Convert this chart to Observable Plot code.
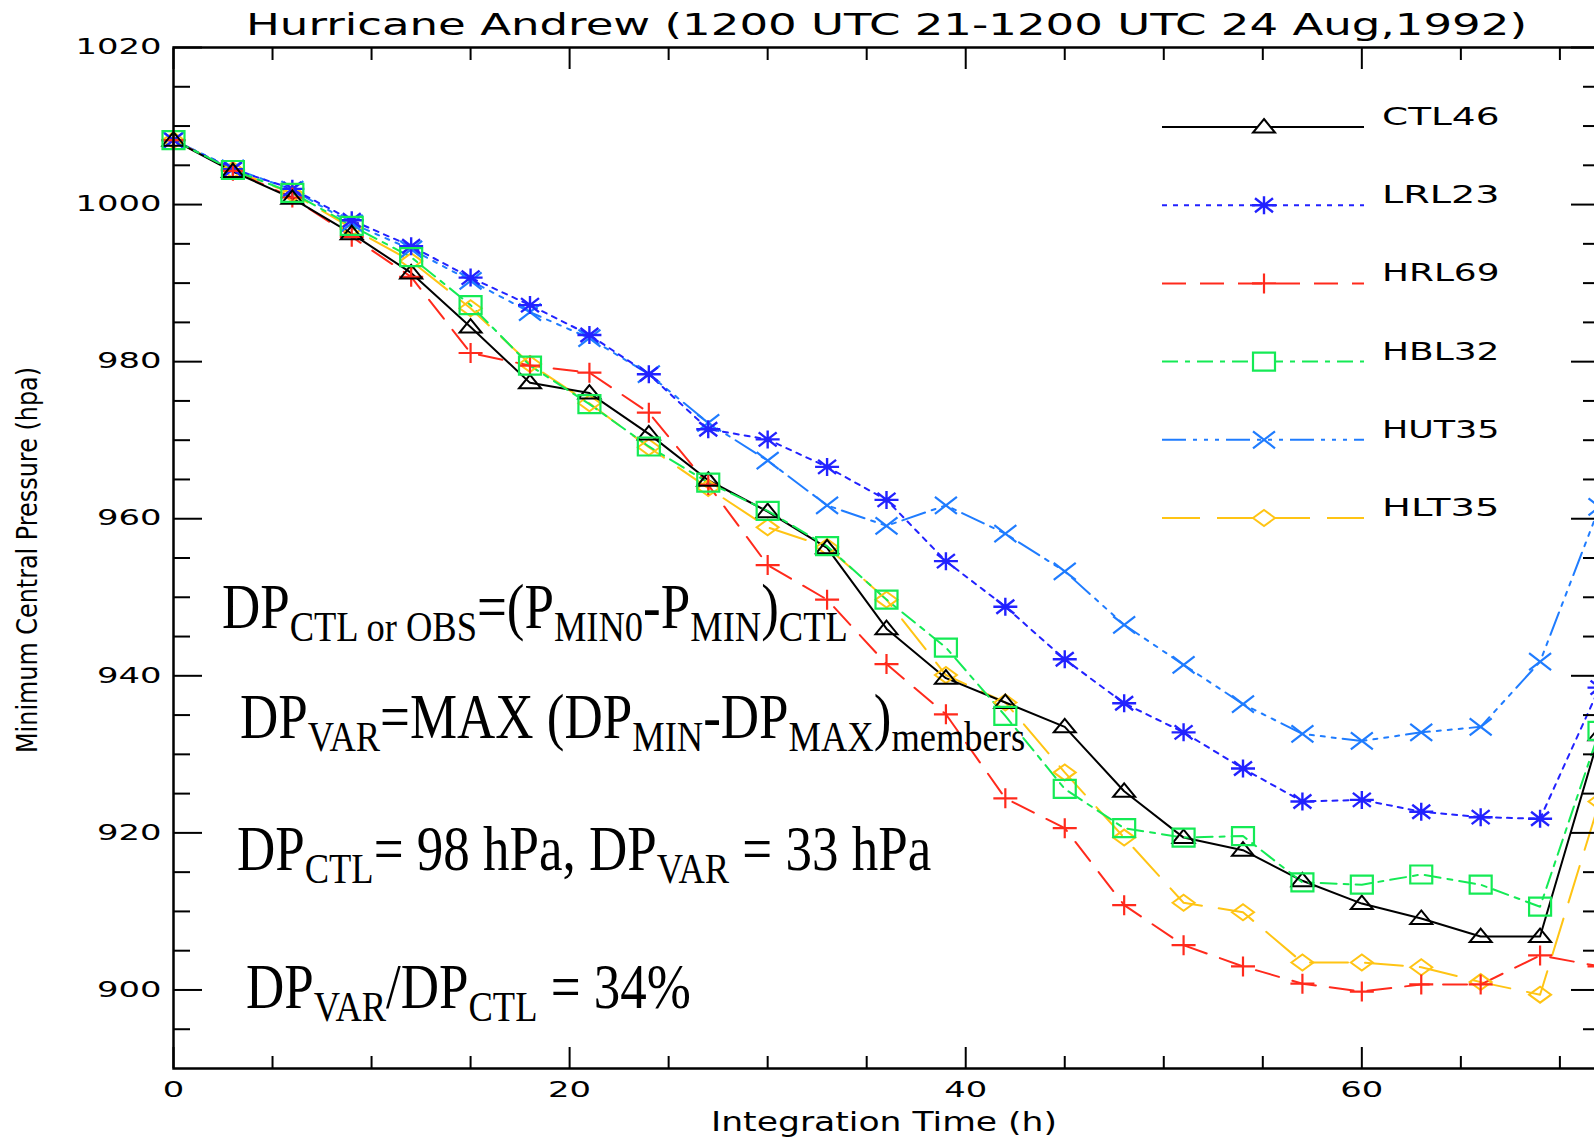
<!DOCTYPE html>
<html><head><meta charset="utf-8">
<script src="https://cdn.jsdelivr.net/npm/d3@7"></script>
<script src="https://cdn.jsdelivr.net/npm/@observablehq/plot@0.6"></script>
<style>
html,body{margin:0;padding:0;background:#fff;overflow:hidden;width:1594px;height:1138px}
#wrap{position:relative;width:1594px;height:1138px;overflow:hidden;background:#fff}
#chart{position:absolute;left:0;top:0}
#overlay{position:absolute;left:0;top:0;pointer-events:none}
</style></head>
<body><div id="wrap"><div id="chart"></div><svg id="overlay" width="1594" height="1138"></svg></div>
<script>
// ---------------- data ----------------
const hours = [0,3,6,9,12,15,18,21,24,27,30,33,36,39,42,45,48,51,54,57,60,63,66,69,72];
const ctl46 = [1008.2,1004.2,1000.8,996.3,991.3,984.4,977.3,976.0,970.8,964.9,960.9,956.3,946.0,939.7,936.6,933.5,925.3,919.4,917.8,913.9,911.0,909.1,906.8,906.8,932.5];
const lrl23 = [1008.2,1004.5,1002.0,998.0,994.7,990.7,987.2,983.4,978.4,971.4,970.1,966.6,962.4,954.6,948.8,942.1,936.5,932.8,928.2,924.0,924.2,922.7,922.0,921.8,938.5];
const hrl69 = [1008.2,1004.3,1000.9,995.9,990.8,981.1,979.5,978.6,973.5,964.3,954.1,949.7,941.5,935.1,924.4,920.6,910.8,905.7,903.0,900.8,899.8,900.7,900.7,904.4,903.0];
const hbl32 = [1008.2,1004.4,1001.5,997.3,993.3,987.2,979.5,974.6,969.2,964.6,961.0,956.5,949.7,943.6,934.9,925.6,920.6,919.4,919.6,913.7,913.4,914.7,913.4,910.6,933.0];
const hut35 = [1008.2,1004.6,1001.9,997.6,994.3,990.3,986.3,983.0,978.4,972.2,967.4,961.7,959.1,961.7,958.1,953.3,946.5,941.4,936.4,932.6,931.7,932.8,933.5,941.8,961.5];
const hlt35 = [1008.2,1004.4,1001.4,997.0,992.8,986.8,979.7,974.7,969.1,963.9,958.9,956.4,949.7,940.1,936.6,927.7,919.4,911.1,909.9,903.5,903.5,902.9,901.0,899.4,924.0];
const seriesNames = ["CTL46","LRL23","HRL69","HBL32","HUT35","HLT35"];
const seriesValues = [ctl46, lrl23, hrl69, hbl32, hut35, hlt35];
const yMajorTicks = [900,920,940,960,980,1000,1020];
const yMinorTicks = [895,905,910,915,925,930,935,945,950,955,965,970,975,985,990,995,1005,1010,1015];
const xMajorTicks = [0,20,40,60];
const xMinorTicks = [5,10,15,25,30,35,45,50,55,65,70];
const titleText = "Hurricane Andrew (1200 UTC 21-1200 UTC 24 Aug,1992)";
const xLabelText = "Integration Time (h)";
const yLabelText = "Minimum Central Pressure (hpa)";
const note1 = [["DP",0],["CTL or OBS",1],["=(P",0],["MIN0",1],["-P",0],["MIN",1],[")",0],["CTL",1]];
const note2 = [["DP",0],["VAR",1],["=MAX (DP",0],["MIN",1],["-DP",0],["MAX",1],[")",0],["members",1]];
const note3 = [["DP",0],["CTL",1],["= 98 hPa, DP",0],["VAR",1],[" = 33 hPa",0]];
const note4 = [["DP",0],["VAR",1],["/DP",0],["CTL",1],[" = 34%",0]];

// ---------------- styles ----------------
const styleOf = {
  CTL46: {color:"#000000", dash:null, symbol:"triangle", sw:2},
  LRL23: {color:"#2222ff", dash:"5,6", symbol:"asterisk", sw:2.4},
  HRL69: {color:"#ff2a1c", dash:"24,14", symbol:"plus", sw:2.2},
  HBL32: {color:"#14ea55", dash:"16,7,5,7", symbol:"square", sw:2.2},
  HUT35: {color:"#1f7cff", dash:"24,7,4,7,4,7,4,7", symbol:"times", sw:2.2},
  HLT35: {color:"#ffc414", dash:"38,17", symbol:"diamond", sw:2}
};
function makeSymbol(kind) {
  return {draw(ctx) {
    switch (kind) {
      case "triangle": ctx.moveTo(0,-8); ctx.lineTo(11,5.5); ctx.lineTo(-11,5.5); ctx.closePath(); break;
      case "asterisk": ctx.moveTo(-12,0); ctx.lineTo(12,0); ctx.moveTo(0,-9); ctx.lineTo(0,9);
                       ctx.moveTo(-9,-7); ctx.lineTo(9,7); ctx.moveTo(-9,7); ctx.lineTo(9,-7); break;
      case "plus": ctx.moveTo(-12,0); ctx.lineTo(12,0); ctx.moveTo(0,-10); ctx.lineTo(0,10); break;
      case "square": ctx.moveTo(-11,-9); ctx.lineTo(11,-9); ctx.lineTo(11,9); ctx.lineTo(-11,9); ctx.closePath(); break;
      case "times": ctx.moveTo(-11,-8.5); ctx.lineTo(11,8.5); ctx.moveTo(-11,8.5); ctx.lineTo(11,-8.5); break;
      case "diamond": ctx.moveTo(-11,0); ctx.lineTo(0,-8); ctx.lineTo(11,0); ctx.lineTo(0,8); ctx.closePath(); break;
    }
  }};
}

// ---------------- table ----------------
const rows = [];
seriesNames.forEach((name, si) => {
  hours.forEach((h, i) => rows.push({series: name, hour: h, p: seriesValues[si][i]}));
});
const drawOrder = ["HLT35","HUT35","LRL23","HRL69","CTL46","HBL32"];

const lineMarks = drawOrder.map(name => Plot.line(rows.filter(d => d.series === name), {
  x: "hour", y: "p", stroke: styleOf[name].color, strokeWidth: 2,
  strokeDasharray: styleOf[name].dash || undefined, curve: "linear"
}));
const dotMarks = drawOrder.map(name => Plot.dot(rows.filter(d => d.series === name), {
  x: "hour", y: "p", symbol: makeSymbol(styleOf[name].symbol), r: 10,
  fill: "none", stroke: styleOf[name].color, strokeWidth: styleOf[name].sw
}));

const tickOpts = {strokeWidth: 2, fill: "none", label: null};
const plot = Plot.plot({
  width: 1600, height: 1138,
  marginLeft: 173, marginRight: 1, marginTop: 47, marginBottom: 70,
  x: {domain: [0, 72]},
  y: {domain: [890, 1020]},
  style: {fontFamily: "DejaVu Sans", fontSize: "21px", color: "#000", background: "#fff", maxWidth: "none", overflow: "visible"},
  marks: [
    ...lineMarks,
    ...dotMarks,
    Plot.axisY(yMajorTicks, {...tickOpts, anchor: "left", tickSize: -29}),
    Plot.axisY(yMinorTicks, {...tickOpts, anchor: "left", tickSize: -17}),
    Plot.axisY(yMajorTicks, {...tickOpts, anchor: "right", tickSize: -29}),
    Plot.axisY(yMinorTicks, {...tickOpts, anchor: "right", tickSize: -17}),
    Plot.axisX(xMajorTicks, {...tickOpts, anchor: "bottom", tickSize: -21}),
    Plot.axisX(xMinorTicks, {...tickOpts, anchor: "bottom", tickSize: -12}),
    Plot.axisX(xMajorTicks, {...tickOpts, anchor: "top", tickSize: -21}),
    Plot.axisX(xMinorTicks, {...tickOpts, anchor: "top", tickSize: -12}),
    Plot.axisY(yMajorTicks, {anchor: "left", tickSize: 0, tickPadding: 12, tickFormat: d => String(d), label: null}),
    Plot.axisX(xMajorTicks, {anchor: "bottom", tickSize: 0, tickPadding: 14, tickFormat: d => String(d), label: null}),
    Plot.frame({stroke: "#000", strokeWidth: 2.5})
  ]
});
document.getElementById("chart").appendChild(plot);
plot.querySelectorAll('[aria-label="y-axis tick label"] text, [aria-label="x-axis tick label"] text').forEach(t => {
  t.setAttribute("textLength", t.textContent.length * 21.5);
  t.setAttribute("lengthAdjust", "spacingAndGlyphs");
});

// ---------------- overlay: title, axis titles, legend, notes ----------------
const ov = d3.select("#overlay");
ov.append("text").attr("x", 886.5).attr("y", 35).attr("text-anchor", "middle")
  .attr("font-family", "DejaVu Sans").attr("font-size", 30)
  .attr("textLength", 1281).attr("lengthAdjust", "spacingAndGlyphs").text(titleText);
ov.append("text").attr("x", 884).attr("y", 1131).attr("text-anchor", "middle")
  .attr("font-family", "DejaVu Sans").attr("font-size", 26)
  .attr("textLength", 346).attr("lengthAdjust", "spacingAndGlyphs").text(xLabelText);
ov.append("text").attr("transform", "translate(37,560) rotate(-90)").attr("text-anchor", "middle")
  .attr("font-family", "DejaVu Sans").attr("font-size", 28)
  .attr("textLength", 386).attr("lengthAdjust", "spacingAndGlyphs").text(yLabelText);

// legend
const lg = ov.append("g");
seriesNames.forEach((name, i) => {
  const s = styleOf[name];
  const y = 127 + i * 78.2;
  lg.append("line").attr("x1", 1162).attr("x2", 1364).attr("y1", y).attr("y2", y)
    .attr("stroke", s.color).attr("stroke-width", 2).attr("stroke-dasharray", s.dash || null);
  lg.append("path").attr("transform", `translate(1264,${y})`)
    .attr("d", d3.symbol(makeSymbol(s.symbol))())
    .attr("fill", "#fff").attr("stroke", s.color).attr("stroke-width", s.sw);
  lg.append("text").attr("x", 1382).attr("y", y - 2)
    .attr("font-family", "DejaVu Sans").attr("font-size", 25)
    .attr("textLength", name.length * 23.5).attr("lengthAdjust", "spacingAndGlyphs").text(name);
});

// notes
function note(parts, x, y) {
  const g = ov.append("g").attr("transform", `translate(${x},${y}) scale(1,1.18)`);
  const t = g.append("text").attr("font-family", "Liberation Serif, Times New Roman, serif")
    .attr("font-size", 53).style("white-space", "pre");
  let cur = 0;
  for (const [s, sub] of parts) {
    const want = sub ? 11 : 0;
    t.append("tspan").attr("dy", want - cur).attr("font-size", sub ? 36.5 : 53).text(s);
    cur = want;
  }
}
note(note1, 222, 628);
note(note2, 240, 738);
note(note3, 237, 870);
note(note4, 246, 1008);
</script>
</body></html>
